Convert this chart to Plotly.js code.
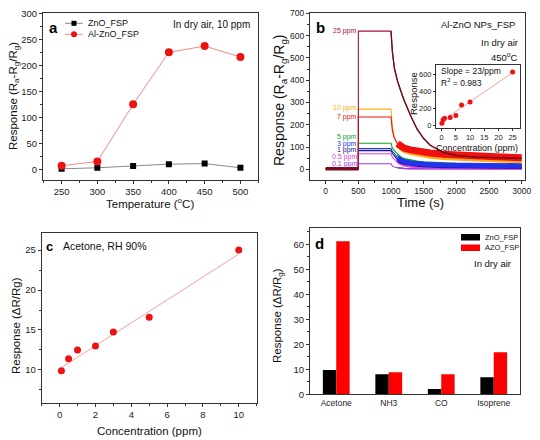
<!DOCTYPE html>
<html><head><meta charset="utf-8">
<script src="https://cdn.plot.ly/plotly-3.0.1.min.js"></script>
<style>html,body{margin:0;padding:0;background:#fff}</style>
</head><body>
<div id="chart" style="width:540px;height:440px"></div>
<script>
// ---------- Panel a: response vs temperature ----------
const tempC = [250, 300, 350, 400, 450, 500];
const respZnO = [1, 3, 6.5, 10, 11, 3];
const respAlZnO = [7, 15, 125, 225, 237, 216];

// ---------- Panel b: dynamic response (Al-ZnO NPs_FSP, 450 C) ----------
const timeS = [0, 500, 500, 1000, 1020, 1050, 1100, 1150, 1200, 1300, 1400, 1500, 1600, 1800, 2000, 2300, 2600, 3000];
const resp25ppm = [3, 3, 620, 620, 530, 455, 395, 350, 310, 240, 180, 138, 108, 76, 62, 55, 51, 49];
const resp10ppm = [3, 3, 270, 270, 190, 145, 108, 92, 84, 75, 68, 63, 59, 53, 49, 45, 42, 38];
const resp7ppm = [3, 3, 235, 235, 175, 140, 115, 102, 95, 87, 81, 76, 73, 68, 64, 60, 56, 52];
const resp5ppm = [3, 3, 117, 117, 95, 85, 65, 52, 45, 38, 34, 31, 29, 26, 24, 22, 21, 20];
const resp3ppm = [3, 3, 93, 93, 80, 72, 50, 40, 34, 28, 25, 23, 21, 19, 18, 17, 16, 16];
const resp1ppm = [3, 3, 84, 84, 72, 62, 42, 32, 27, 21, 18, 16, 14, 12, 11, 10, 9, 9];
const resp05ppm = [2, 2, 70, 70, 55, 45, 30, 22, 17, 12, 10, 8, 7, 6, 5, 5, 4, 4];
const resp01ppm = [2, 2, 25, 25, 15, 10, 7, 5, 4, 3, 3, 3, 2, 2, 2, 2, 2, 2];
const concLabels = ['0.1 ppm', '0.5 ppm', '1 ppm', '5 ppm', '3 ppm', '10 ppm', '7 ppm', '25 ppm'];

// inset: response vs concentration
const insetConc = [0.1, 0.5, 1, 3, 5, 7, 10, 25];
const insetResp = [22, 62, 80, 90, 112, 238, 272, 628];
const insetFitConc = [0, 25];
const insetFitResp = [45, 620];

// ---------- Panel c: acetone, RH 90% ----------
const acetoneConc = [0.1, 0.5, 1, 2, 3, 5, 10];
const acetoneResp = [9.9, 11.4, 12.5, 13.0, 14.75, 16.6, 25.0];
const acetoneFitConc = [0.1, 10];
const acetoneFitResp = [10.3, 24.5];

// ---------- Panel d: selectivity ----------
const gases = ['Acetone', 'NH3', 'CO', 'Isoprene'];
const gasRespZnO = [9.7, 8, 2.1, 6.8];
const gasRespAZO = [61.2, 8.8, 8, 16.8];

// ---------- styling helpers ----------
const FONT = 'Arial, "Liberation Sans", sans-serif';
const W = 540, H = 440;
const PX = x => x / W;
const PY = y => 1 - y / H;

function axis(domain, range, dtick, minorDtick, anchor, extra) {
  const a = {
    domain: domain, range: range, anchor: anchor,
    showline: true, mirror: true, linecolor: '#333', linewidth: 1,
    ticks: 'outside', ticklen: 3, tickcolor: '#333', tickwidth: 1,
    showgrid: false, zeroline: false, fixedrange: true,
    tickfont: {size: 9.5, color: '#222', family: FONT}
  };
  if (dtick) { a.dtick = dtick; a.tick0 = 0; }
  if (minorDtick) a.minor = {ticks: 'outside', ticklen: 2, dtick: minorDtick, tickcolor: '#333', showgrid: false};
  return Object.assign(a, extra || {});
}

const traces = [];

// panel a
traces.push({x: tempC, y: respZnO, xaxis: 'x', yaxis: 'y', type: 'scatter', mode: 'lines+markers',
  name: 'ZnO_FSP', line: {color: '#8a8a8a', width: 1}, marker: {symbol: 'square', size: 6, color: '#000'}, showlegend: false});
traces.push({x: tempC, y: respAlZnO, xaxis: 'x', yaxis: 'y', type: 'scatter', mode: 'lines+markers',
  name: 'Al-ZnO_FSP', line: {color: '#f08a8a', width: 1}, marker: {symbol: 'circle', size: 8, color: '#ee1111'}, showlegend: false});

// panel b
const seriesB = [
  {y: resp01ppm, color: '#9a3ce6', band: 1.5, labelY: 24},
  {y: resp05ppm, color: '#e040e0', band: 2, labelY: 55},
  {y: resp1ppm, color: '#16168a', band: 3, labelY: 85},
  {y: resp5ppm, color: '#13a02a', band: 2.5, labelY: 147},
  {y: resp3ppm, color: '#2233f0', band: 5, labelY: 115},
  {y: resp10ppm, color: '#ffae1a', band: 5, labelY: 274},
  {y: resp7ppm, color: '#f01010', band: 7, labelY: 236},
  {y: resp25ppm, color: '#a8123a', band: 0, labelY: 620}
];
seriesB.forEach((s, i) => {
  traces.push({x: timeS, y: s.y, xaxis: 'x2', yaxis: 'y2', type: 'scatter', mode: 'lines',
    name: concLabels[i], line: {color: s.color, width: 1.1}, showlegend: false});
  if (s.band) {
    traces.push({x: timeS.slice(6), y: s.y.slice(6), xaxis: 'x2', yaxis: 'y2', type: 'scatter', mode: 'lines',
      name: concLabels[i] + ' noise', line: {color: s.color, width: s.band}, showlegend: false});
  }
});
// dark baseline band of 25 ppm run
traces.push({x: timeS.slice(0, 2), y: resp25ppm.slice(0, 2), xaxis: 'x2', yaxis: 'y2', type: 'scatter', mode: 'lines',
  name: '25 ppm baseline', line: {color: '#7a0a1e', width: 3.5}, showlegend: false});
// 25 ppm decay on top (dark)
traces.push({x: timeS.slice(3), y: resp25ppm.slice(3), xaxis: 'x2', yaxis: 'y2', type: 'scatter', mode: 'lines',
  name: '25 ppm decay', line: {color: '#6e0c1c', width: 1.3}, showlegend: false});

// inset
traces.push({x: insetFitConc, y: insetFitResp, xaxis: 'x5', yaxis: 'y5', type: 'scatter', mode: 'lines',
  name: 'fit', line: {color: '#f4a0a0', width: 1}, showlegend: false});
traces.push({x: insetConc, y: insetResp, xaxis: 'x5', yaxis: 'y5', type: 'scatter', mode: 'markers',
  name: 'Response', marker: {color: '#ee1111', size: 5}, showlegend: false});

// panel c
traces.push({x: acetoneFitConc, y: acetoneFitResp, xaxis: 'x3', yaxis: 'y3', type: 'scatter', mode: 'lines',
  name: 'fit', line: {color: '#f4a0a0', width: 1}, showlegend: false});
traces.push({x: acetoneConc, y: acetoneResp, xaxis: 'x3', yaxis: 'y3', type: 'scatter', mode: 'markers',
  name: 'Acetone, RH 90%', marker: {color: '#ee1111', size: 7}, showlegend: false});

// panel d
traces.push({x: gases, y: gasRespZnO, xaxis: 'x4', yaxis: 'y4', type: 'bar', name: 'ZnO_FSP',
  marker: {color: '#000'}, showlegend: false});
traces.push({x: gases, y: gasRespAZO, xaxis: 'x4', yaxis: 'y4', type: 'bar', name: 'AZO_FSP',
  marker: {color: '#ff0000'}, showlegend: false});

function ann(text, x, y, o) {
  return Object.assign({text: text, x: PX(x), y: PY(y), xref: 'paper', yref: 'paper', showarrow: false,
    xanchor: 'center', yanchor: 'middle', font: {family: FONT, size: 10, color: '#111'}}, o || {});
}
const annotations = [
  // panel a
  ann('<b>a</b>', 53, 27, {font: {family: FONT, size: 15, color: '#000'}}),
  ann('In dry air, 10 ppm', 252, 25, {xanchor: 'right', font: {family: FONT, size: 10, color: '#111'}}),
  ann('ZnO_FSP', 86, 23.3, {xanchor: 'left', font: {family: FONT, size: 9, color: '#111'}}),
  ann('Al-ZnO_FSP', 86, 34.3, {xanchor: 'left', font: {family: FONT, size: 9, color: '#111'}}),
  ann('Temperature (<sup>o</sup>C)', 150, 203, {font: {family: FONT, size: 11.5, color: '#111'}}),
  ann('Response (R<sub>a</sub>-R<sub>g</sub>/R<sub>g</sub>)', 14, 96, {textangle: -90, font: {family: FONT, size: 11.5, color: '#111'}}),
  // panel b
  ann('<b>b</b>', 320, 27, {font: {family: FONT, size: 15, color: '#000'}}),
  ann('Al-ZnO NPs_FSP', 517, 24, {xanchor: 'right', font: {family: FONT, size: 9.5, color: '#111'}}),
  ann('In dry air', 520, 42, {xanchor: 'right', font: {family: FONT, size: 9.5, color: '#111'}}),
  ann('450<sup>o</sup>C', 520, 56.5, {xanchor: 'right', font: {family: FONT, size: 9.5, color: '#111'}}),
  ann('Time (s)', 420, 202, {font: {family: FONT, size: 13, color: '#111'}}),
  ann('Response (R<sub>a</sub>-R<sub>g</sub>/R<sub>g</sub>)', 280, 100, {textangle: -90, font: {family: FONT, size: 14, color: '#111'}}),
  ann('Slope = 23/ppm', 438.5, 71.5, {xanchor: 'left', font: {family: FONT, size: 8.5, color: '#111'}}),
  ann('R<sup>2</sup> = 0.983', 438.5, 83, {xanchor: 'left', font: {family: FONT, size: 8.5, color: '#111'}}),
  ann('Concentration (ppm)', 477, 148, {font: {family: FONT, size: 9, color: '#111'}}),
  ann('Response', 413, 94, {textangle: -90, font: {family: FONT, size: 9.5, color: '#111'}}),
  // panel c
  ann('<b>c</b>', 49, 246, {font: {family: FONT, size: 13, color: '#000'}}),
  ann('Acetone, RH 90%', 61, 246, {xanchor: 'left', font: {family: FONT, size: 10.5, color: '#111'}}),
  ann('Concentration (ppm)', 149, 430.5, {font: {family: FONT, size: 11.5, color: '#111'}}),
  ann('Response (ΔR/Rg)', 16, 326, {textangle: -90, font: {family: FONT, size: 11.5, color: '#111'}}),
  // panel d
  ann('<b>d</b>', 319, 243, {font: {family: FONT, size: 15, color: '#000'}}),
  ann('ZnO_FSP', 483, 237, {xanchor: 'left', font: {family: FONT, size: 7.5, color: '#111'}}),
  ann('AZO_FSP', 483, 248, {xanchor: 'left', font: {family: FONT, size: 7.5, color: '#111'}}),
  ann('In dry air', 513, 263.5, {xanchor: 'right', font: {family: FONT, size: 9.5, color: '#111'}}),
  ann('Response (ΔR/R<sub>g</sub>)', 278, 316, {textangle: -90, font: {family: FONT, size: 11.5, color: '#111'}})
];
// concentration labels in panel b
seriesB.forEach((s, i) => {
  annotations.push({text: concLabels[i], x: 500, y: s.labelY, xref: 'x2', yref: 'y2', showarrow: false,
    xanchor: 'right', yanchor: 'middle', borderpad: 0, font: {family: FONT, size: 7, color: s.color}});
});

function line(x0, y0, x1, y1, color, w) {
  return {type: 'line', xref: 'paper', yref: 'paper', x0: PX(x0), y0: PY(y0), x1: PX(x1), y1: PY(y1),
    line: {color: color, width: w}};
}
function box(type, x0, y0, x1, y1, color) {
  return {type: type, xref: 'paper', yref: 'paper', x0: PX(x0), y0: PY(y0), x1: PX(x1), y1: PY(y1),
    fillcolor: color, line: {width: 0}};
}
const shapes = [
  // legend glyphs panel a
  line(65, 23.3, 83, 23.3, '#8a8a8a', 1),
  box('rect', 71.5, 20.8, 76.5, 25.8, '#000'),
  line(65, 34.3, 83, 34.3, '#f08a8a', 1),
  box('circle', 71, 31.3, 77, 37.3, '#ee1111'),
  // legend swatches panel d
  box('rect', 461, 234, 480, 240.5, '#000'),
  box('rect', 461, 244.5, 480, 251, '#ff0000')
];

const layout = {
  width: W, height: H, margin: {l: 0, r: 0, t: 0, b: 0},
  paper_bgcolor: '#fff', plot_bgcolor: '#fff', showlegend: false,
  font: {family: FONT, color: '#222'},
  barmode: 'group', bargap: 0.49, bargroupgap: 0,
  xaxis: axis([PX(43), PX(258.3)], [224, 525], 50, 25, 'y'),
  yaxis: axis([PY(180), PY(13.3)], [-20.5, 300], 50, 25, 'x'),
  xaxis2: axis([PX(310), PX(525)], [-240, 3050], 500, 250, 'y2', {tickfont: {size: 8.5, color: '#222', family: FONT}}),
  yaxis2: axis([PY(180), PY(13.3)], [-48, 700], 100, 50, 'x2', {tickfont: {size: 8.5, color: '#222', family: FONT}}),
  xaxis3: axis([PX(41.7), PX(256.7)], [-1, 11], 2, 1, 'y3'),
  yaxis3: axis([PY(402.7), PY(233.3)], [5.9, 27.1], 5, 2.5, 'x3'),
  xaxis4: axis([PX(310), PX(520)], [-0.5, 3.5], null, null, 'y4', {type: 'category', ticks: '', tickfont: {size: 8.5, color: '#222', family: FONT}}),
  yaxis4: axis([PY(394.3), PY(228.3)], [0, 66.4], 10, 5, 'x4'),
  xaxis5: axis([PX(436), PX(520)], [-2, 27.6], 5, null, 'y5', {ticklen: 2, tickfont: {size: 7.5, color: '#222', family: FONT}}),
  yaxis5: axis([PY(128.3), PY(65)], [-39, 710], 200, null, 'x5', {ticklen: 2, tickfont: {size: 7.5, color: '#222', family: FONT}}),
  annotations: annotations,
  shapes: shapes
};

Plotly.newPlot('chart', traces, layout, {staticPlot: true, displayModeBar: false});
</script>
</body></html>
